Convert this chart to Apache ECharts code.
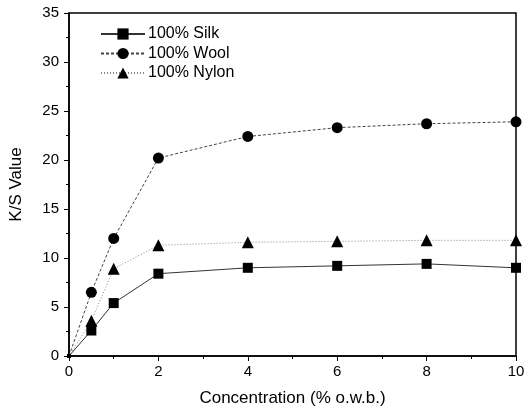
<!DOCTYPE html>
<html>
<head>
<meta charset="utf-8">
<script src="https://cdn.jsdelivr.net/npm/echarts@6/dist/echarts.min.js"></script>
<style>
  html, body { margin: 0; padding: 0; background: #fff; }
  #chart { width: 531px; height: 409px; }
</style>
</head>
<body>
<div id="chart"></div>
<script>
// concentration (% o.w.b.)
const concentration = [0, 0.5, 1, 2, 4, 6, 8, 10]
// K/S values
const silk = [0, 2.6, 5.4, 8.4, 9.0, 9.2, 9.4, 9.0]
const wool = [0, 6.5, 12.0, 20.2, 22.4, 23.3, 23.7, 23.9]
const nylon = [0, 3.6, 8.9, 11.3, 11.6, 11.7, 11.8, 11.8]
const seriesNames = ['100% Silk', '100% Wool', '100% Nylon']

const pairs = (ys) => concentration.map((x, i) => [x, ys[i]])
// the origin point is only a tiny dot in the original
const sizeBy = (size) => (v) => (v[0] === 0 ? 4 : size)

const chart = echarts.init(document.getElementById('chart'))
const font = 'Liberation Sans, Arial, sans-serif'
const axisCommon = {
  axisLine: { show: true, lineStyle: { color: '#000', width: 1.5 } },
  axisTick: { show: true, inside: false, length: 5, lineStyle: { color: '#000' } },
  minorTick: { show: true, splitNumber: 2, length: 3, lineStyle: { color: '#000' } },
  splitLine: { show: false },
  axisLabel: { color: '#000', fontSize: 15, fontFamily: font }
}
chart.setOption({
  animation: false,
  grid: {
    left: 69, right: 15, top: 13, bottom: 53,
    outerBoundsMode: 'none',
    show: true, borderColor: '#000', borderWidth: 1.5
  },
  legend: {
    left: 95, top: 21, orient: 'vertical',
    itemWidth: 44, itemHeight: 14, itemGap: 3.5,
    textStyle: { color: '#000', fontSize: 16, fontFamily: font, padding: [0, 0, 0, -2] },
    data: seriesNames
  },
  xAxis: {
    type: 'value', min: 0, max: 10, interval: 2,
    name: 'Concentration (% o.w.b.)', nameLocation: 'middle', nameGap: 34,
    nameTextStyle: { color: '#000', fontSize: 17, fontFamily: font },
    ...axisCommon,
    axisLabel: { ...axisCommon.axisLabel, margin: 8 }
  },
  yAxis: {
    type: 'value', min: 0, max: 35, interval: 5,
    name: 'K/S Value', nameLocation: 'middle', nameGap: 44,
    nameTextStyle: { color: '#000', fontSize: 17, fontFamily: font },
    ...axisCommon,
    axisLabel: { ...axisCommon.axisLabel, margin: 10 }
  },
  series: [
    {
      name: seriesNames[0], type: 'line', data: pairs(silk),
      symbol: 'rect', symbolSize: sizeBy(10),
      lineStyle: { color: '#333', width: 1, type: 'solid' },
      itemStyle: { color: '#000' }
    },
    {
      name: seriesNames[1], type: 'line', data: pairs(wool),
      symbol: 'circle', symbolSize: sizeBy(11),
      lineStyle: { color: '#444', width: 1, type: [3, 2] },
      itemStyle: { color: '#000' }
    },
    {
      name: seriesNames[2], type: 'line', data: pairs(nylon),
      symbol: 'triangle', symbolSize: sizeBy(12),
      lineStyle: { color: '#888', width: 1, type: [1, 2] },
      itemStyle: { color: '#000' }
    }
  ]
})
</script>
</body>
</html>
